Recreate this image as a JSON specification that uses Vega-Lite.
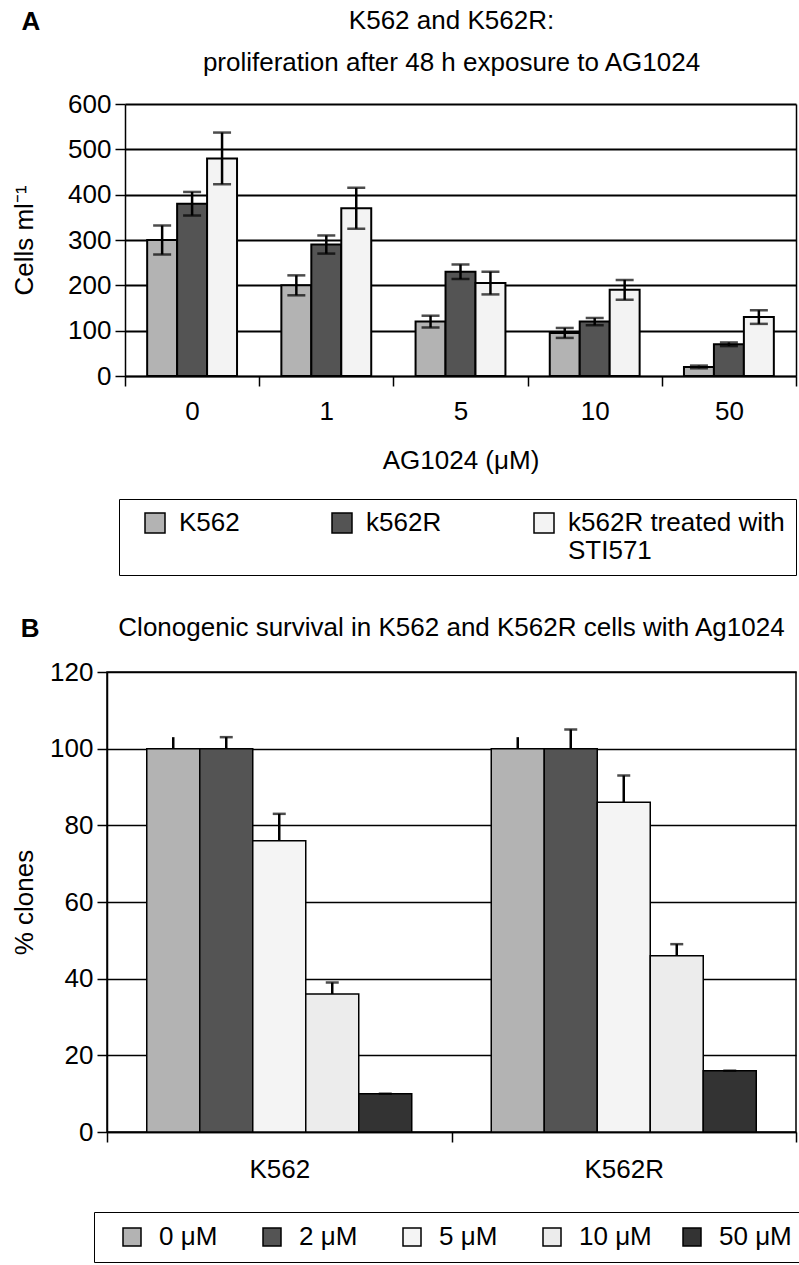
{
  "$schema": "https://vega.github.io/schema/vega-lite/v6.json",
  "padding": {"left": 10, "top": 8, "right": 2, "bottom": 2},
  "background": "white",
  "config": {
    "font": "Liberation Sans",
    "view": {"stroke": "black", "strokeWidth": 1.5},
    "axis": {
      "domainColor": "black", "tickColor": "black", "labelColor": "black", "titleColor": "black",
      "gridColor": "black", "gridOpacity": 1, "domainWidth": 1.5, "tickWidth": 1.5, "gridWidth": 1.5,
      "titleFontWeight": "normal", "labelFontSize": 26, "titleFontSize": 26, "tickSize": 10
    },
    "legend": {
      "labelColor": "black", "labelFontSize": 26, "symbolType": "square",
      "symbolStrokeColor": "black", "symbolStrokeWidth": 1.5, "strokeColor": "black", "labelLimit": 400
    },
    "title": {"color": "black", "fontWeight": "normal"}
  },
  "resolve": {"scale": {"color": "independent", "x": "independent", "y": "independent", "xOffset": "independent"}},
  "columns": 1,
  "align": "none",
  "spacing": 38,
  "concat": [
    {
      "title": {"text": "A", "anchor": "start", "fontSize": 26, "fontWeight": "bold", "dy": 31, "dx": 10},
      "vconcat": [
        {
          "width": 689,
          "height": 272,
          "view": {"stroke": null},
          "title": {"text": ["K562 and K562R:", "proliferation after 48 h exposure to AG1024"], "fontSize": 26, "lineHeight": 42, "anchor": "middle", "offset": 15},
          "data": {"values": [
            {"dose": "0", "cell": "K562", "value": 300, "low": 268, "high": 332},
            {"dose": "0", "cell": "k562R", "value": 380, "low": 354, "high": 406},
            {"dose": "0", "cell": "k562R treated with STI571", "value": 480, "low": 423, "high": 537},
            {"dose": "1", "cell": "K562", "value": 200, "low": 178, "high": 222},
            {"dose": "1", "cell": "k562R", "value": 290, "low": 270, "high": 310},
            {"dose": "1", "cell": "k562R treated with STI571", "value": 370, "low": 325, "high": 415},
            {"dose": "5", "cell": "K562", "value": 120, "low": 107, "high": 133},
            {"dose": "5", "cell": "k562R", "value": 230, "low": 214, "high": 246},
            {"dose": "5", "cell": "k562R treated with STI571", "value": 205, "low": 180, "high": 230},
            {"dose": "10", "cell": "K562", "value": 95, "low": 84, "high": 106},
            {"dose": "10", "cell": "k562R", "value": 120, "low": 112, "high": 128},
            {"dose": "10", "cell": "k562R treated with STI571", "value": 190, "low": 168, "high": 212},
            {"dose": "50", "cell": "K562", "value": 20, "low": 17, "high": 23},
            {"dose": "50", "cell": "k562R", "value": 70, "low": 66, "high": 74},
            {"dose": "50", "cell": "k562R treated with STI571", "value": 130, "low": 115, "high": 145}
          ]},
          "encoding": {
            "x": {
              "field": "dose", "type": "nominal", "sort": ["0", "1", "5", "10", "50"],
              "scale": {"paddingInner": 0, "paddingOuter": 0, "range": [18, 689]},
              "axis": {"title": "AG1024 (μM)", "labelAngle": 0, "tickBand": "extent", "labelPadding": 12, "titlePadding": 23}
            },
            "xOffset": {
              "field": "cell", "type": "nominal", "sort": ["K562", "k562R", "k562R treated with STI571"],
              "scale": {"paddingInner": 0, "paddingOuter": 0.74}
            }
          },
          "resolve": {"axis": {"y": "independent"}},
          "layer": [
            {
              "mark": {"type": "bar", "stroke": "black", "strokeWidth": 2},
              "encoding": {
                "y": {
                  "field": "value", "type": "quantitative", "title": "Cells ml⁻¹",
                  "scale": {"domain": [0, 600]},
                  "axis": {"orient": "left", "offset": -18, "values": [0, 100, 200, 300, 400, 500, 600], "labelPadding": 4, "titlePadding": 30, "gridWidth": 2}
                },
                "color": {
                  "field": "cell", "type": "nominal",
                  "sort": ["K562", "k562R", "k562R treated with STI571"],
                  "scale": {"domain": ["K562", "k562R", "k562R treated with STI571"], "range": ["#b3b3b3", "#545454", "#f3f3f3"]},
                  "legend": {
                    "title": null, "orient": "none", "legendX": 12, "legendY": 395,
                    "direction": "horizontal", "columns": 3, "gridAlign": "each", "columnPadding": 77,
                    "symbolSize": 400, "symbolOffset": 12, "labelOffset": 11, "padding": 11,
                    "labelBaseline": "top",
                    "encode": {"labels": {"update": {"dy": {"value": -13}}}},
                    "labelExpr": "datum.label == 'k562R treated with STI571' ? ['k562R treated with', 'STI571'] : [datum.label, ' ']"
                  }
                }
              }
            },
            {
              "mark": {"type": "rule", "strokeWidth": 2.5, "color": "black"},
              "encoding": {
                "y": {
                  "field": "low", "type": "quantitative", "title": "Cells ml⁻¹",
                  "axis": {"orient": "right", "labels": false, "ticks": false, "grid": false, "title": null, "domain": true, "domainWidth": 1.5}
                },
                "y2": {"field": "high"}
              }
            },
            {
              "mark": {"type": "tick", "color": "black", "thickness": 2.5, "size": 18},
              "encoding": {"y": {"field": "high", "type": "quantitative", "axis": null}}
            },
            {
              "mark": {"type": "tick", "color": "black", "thickness": 2.5, "size": 18},
              "encoding": {"y": {"field": "low", "type": "quantitative", "axis": null}}
            }
          ]
        }
      ]
    },
    {
      "title": {"text": "B", "anchor": "start", "fontSize": 26, "fontWeight": "bold", "dy": 32, "dx": 10},
      "vconcat": [
        {
          "width": 689,
          "height": 460,
          "title": {"text": "Clonogenic survival in  K562 and K562R cells with Ag1024", "fontSize": 26, "anchor": "middle", "offset": 18},
          "data": {"values": [
            {"group": "K562", "dose": "0 μM", "value": 100, "high": 103},
            {"group": "K562", "dose": "2 μM", "value": 100, "high": 103},
            {"group": "K562", "dose": "5 μM", "value": 76, "high": 83},
            {"group": "K562", "dose": "10 μM", "value": 36, "high": 39},
            {"group": "K562", "dose": "50 μM", "value": 10, "high": 10},
            {"group": "K562R", "dose": "0 μM", "value": 100, "high": 103},
            {"group": "K562R", "dose": "2 μM", "value": 100, "high": 105},
            {"group": "K562R", "dose": "5 μM", "value": 86, "high": 93},
            {"group": "K562R", "dose": "10 μM", "value": 46, "high": 49},
            {"group": "K562R", "dose": "50 μM", "value": 16, "high": 16}
          ]},
          "encoding": {
            "x": {
              "field": "group", "type": "nominal", "sort": ["K562", "K562R"],
              "scale": {"paddingInner": 0, "paddingOuter": 0},
              "axis": {"title": null, "labelAngle": 0, "tickBand": "extent", "labelPadding": 14}
            },
            "xOffset": {
              "field": "dose", "type": "nominal", "sort": ["0 μM", "2 μM", "5 μM", "10 μM", "50 μM"],
              "scale": {"paddingInner": 0, "paddingOuter": 0.75}
            }
          },
          "layer": [
            {
              "mark": {"type": "bar", "stroke": "black", "strokeWidth": 1.5},
              "encoding": {
                "y": {
                  "field": "value", "type": "quantitative", "title": "% clones",
                  "scale": {"domain": [0, 120]},
                  "axis": {"values": [0, 20, 40, 60, 80, 100, 120], "labelPadding": 4, "titlePadding": 12}
                },
                "color": {
                  "field": "dose", "type": "nominal",
                  "sort": ["0 μM", "2 μM", "5 μM", "10 μM", "50 μM"],
                  "scale": {"domain": ["0 μM", "2 μM", "5 μM", "10 μM", "50 μM"], "range": ["#b3b3b3", "#545454", "#f4f4f4", "#ececec", "#333333"]},
                  "legend": {
                    "title": null, "orient": "none", "legendX": -13, "legendY": 540,
                    "direction": "horizontal", "columns": 5, "gridAlign": "all", "columnPadding": 14,
                    "symbolSize": 324, "symbolOffset": 13, "labelOffset": 14, "padding": 12
                  }
                }
              }
            },
            {
              "mark": {"type": "rule", "strokeWidth": 2.5, "color": "black"},
              "encoding": {
                "y": {"field": "value", "type": "quantitative", "title": "% clones"},
                "y2": {"field": "high"}
              }
            },
            {
              "transform": [{"filter": "datum.dose != '0 μM'"}],
              "mark": {"type": "tick", "color": "black", "thickness": 2.5, "size": 13},
              "encoding": {"y": {"field": "high", "type": "quantitative", "title": "% clones"}}
            }
          ]
        }
      ]
    }
  ]
}
